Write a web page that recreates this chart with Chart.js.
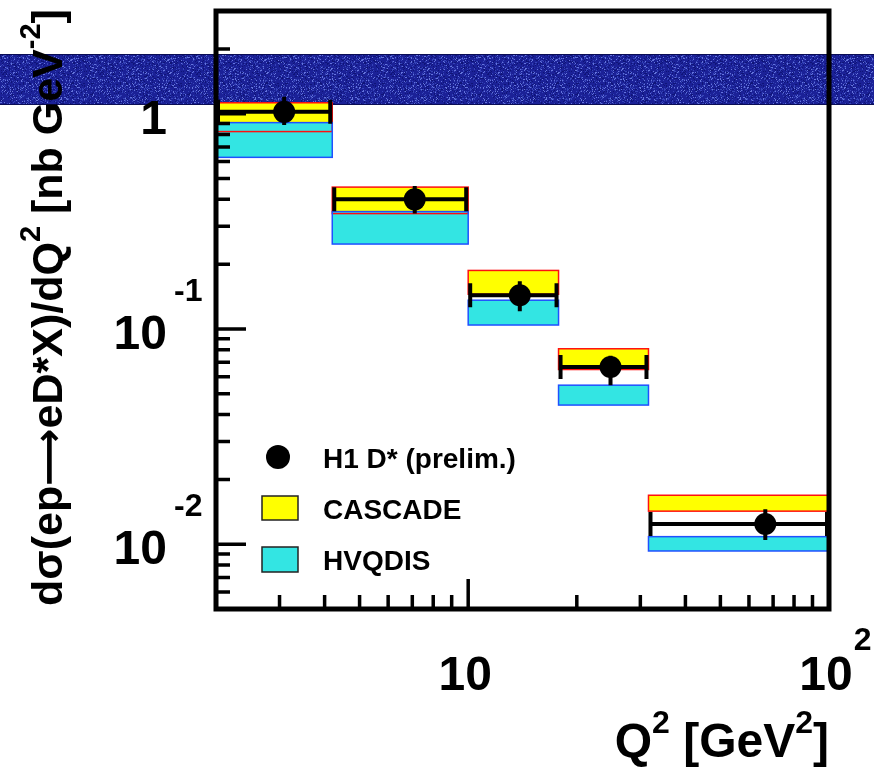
<!DOCTYPE html>
<html>
<head>
<meta charset="utf-8">
<script src="https://cdn.jsdelivr.net/npm/chart.js@4"></script>
<style>
   html, body { margin: 0; padding: 0; background: #fff; }
   canvas { display: block; }
</style>
</head>
<body>
<canvas id="myChart" width="874" height="768"></canvas>
<script>
// Q2 bins and measured points
const binLow = [2, 4.2, 10, 17.8, 31.6];
const binHigh = [4.2, 10, 17.8, 31.6, 100];
const q2Center = [3.09, 7.11, 13.9, 24.8, 66.6];
const h1Value = [1.02, 0.4, 0.1434, 0.0666, 0.01241];
const h1ErrLow = [0.886, 0.344, 0.121, 0.0548, 0.01047];
const h1ErrHigh = [1.198, 0.461, 0.1665, 0.0751, 0.01455];

// model bands
const cascadeLow = [0.826, 0.3435, 0.145, 0.0648, 0.01424];
const cascadeHigh = [1.124, 0.456, 0.187, 0.0809, 0.01688];
const hvqdisLow = [0.627, 0.248, 0.1043, 0.0443, 0.0093];
const hvqdisHigh = [0.909, 0.351, 0.136, 0.0548, 0.01084];

const legendLabels = ['H1 D* (prelim.)', 'CASCADE', 'HVQDIS'];

// tick labels: [value, base, exponent]
const xTickLabels = [[10, '10', ''], [100, '10', '2']];
const yTickLabels = [[1, '1', ''], [0.1, '10', '-1'], [0.01, '10', '-2']];

const FONT = '"Liberation Sans", Arial, sans-serif';

function noisePattern(ctx) {
   const c = document.createElement('canvas');
   c.width = 97;
   c.height = 50;
   const p = c.getContext('2d');
   p.fillStyle = '#1b2197';
   p.fillRect(0, 0, c.width, c.height);
   for (let i = 0; i < c.width; i++) {
      for (let j = 0; j < c.height; j++) {
         const h = Math.abs(Math.sin(i * 12.9898 + j * 78.233) * 43758.5453) % 1;
         if (h > 0.78) {
            p.fillStyle = h > 0.92 ? '#6474dc' : '#3644b8';
            p.fillRect(i, j, 1, 1);
         } else if (h < 0.12) {
            p.fillStyle = '#0f1478';
            p.fillRect(i, j, 1, 1);
         }
      }
   }
   return ctx.createPattern(c, 'repeat');
}

function boxes(ctx, x, y, lows, highs, fill) {
   ctx.fillStyle = fill;
   for (let i = 0; i < binLow.length; i++) {
      const x0 = x.getPixelForValue(binLow[i]);
      const x1 = x.getPixelForValue(binHigh[i]);
      const y0 = y.getPixelForValue(highs[i]);
      const y1 = y.getPixelForValue(lows[i]);
      ctx.fillRect(x0, y0, x1 - x0, y1 - y0);
   }
}

function outlines(ctx, x, y, lows, highs, color) {
   ctx.strokeStyle = color;
   ctx.lineWidth = 1.5;
   for (let i = 0; i < binLow.length; i++) {
      const x0 = x.getPixelForValue(binLow[i]);
      const x1 = x.getPixelForValue(binHigh[i]);
      const y0 = y.getPixelForValue(highs[i]);
      const y1 = y.getPixelForValue(lows[i]);
      ctx.strokeRect(x0, y0, x1 - x0, y1 - y0);
   }
}

function supText(ctx, parts, x, y, align) {
   // parts: [text, size, raise, family?]
   const fontOf = (p) => 'bold ' + p[1] + 'px ' + (p[3] || FONT);
   let total = 0;
   parts.forEach((p) => {
      ctx.font = fontOf(p);
      total += ctx.measureText(p[0]).width;
   });
   let cx = x;
   if (align === 'right') cx = x - total;
   if (align === 'center') cx = x - total / 2;
   ctx.textAlign = 'left';
   ctx.textBaseline = 'alphabetic';
   parts.forEach((p) => {
      ctx.font = fontOf(p);
      ctx.fillText(p[0], cx, y - p[2]);
      cx += ctx.measureText(p[0]).width;
   });
}

const rootPlot = {
   id: 'rootPlot',
   beforeDraw(chart) {
      const ctx = chart.ctx;
      ctx.save();
      ctx.fillStyle = '#fff';
      ctx.fillRect(0, 0, chart.width, chart.height);
      ctx.fillStyle = noisePattern(ctx);
      ctx.fillRect(0, 55, chart.width, 49);
      ctx.strokeStyle = '#0a0d55';
      ctx.lineWidth = 1;
      ctx.beginPath();
      ctx.moveTo(0, 54.5); ctx.lineTo(chart.width, 54.5);
      ctx.moveTo(0, 104.5); ctx.lineTo(chart.width, 104.5);
      ctx.stroke();
      ctx.restore();
   },
   beforeDatasetsDraw(chart) {
      const ctx = chart.ctx;
      const x = chart.scales.x;
      const y = chart.scales.y;
      ctx.save();
      boxes(ctx, x, y, cascadeLow, cascadeHigh, '#ffff00');
      boxes(ctx, x, y, hvqdisLow, hvqdisHigh, '#33e5e3');
      outlines(ctx, x, y, cascadeLow, cascadeHigh, '#ff1010');
      outlines(ctx, x, y, hvqdisLow, hvqdisHigh, '#2050ff');

      // error bars of the data
      ctx.strokeStyle = '#000';
      ctx.lineWidth = 4;
      for (let i = 0; i < q2Center.length; i++) {
         const x0 = x.getPixelForValue(binLow[i]);
         const x1 = x.getPixelForValue(binHigh[i]);
         const xc = x.getPixelForValue(q2Center[i]);
         const yc = y.getPixelForValue(h1Value[i]);
         ctx.beginPath();
         ctx.moveTo(x0, yc); ctx.lineTo(x1, yc);
         ctx.moveTo(x0 + 2, yc - 12); ctx.lineTo(x0 + 2, yc + 12);
         ctx.moveTo(x1 - 2, yc - 12); ctx.lineTo(x1 - 2, yc + 12);
         ctx.moveTo(xc, y.getPixelForValue(h1ErrHigh[i]));
         ctx.lineTo(xc, y.getPixelForValue(h1ErrLow[i]));
         ctx.stroke();
      }
      ctx.restore();
   },
   afterDraw(chart) {
      const ctx = chart.ctx;
      const a = chart.chartArea;
      const x = chart.scales.x;
      const y = chart.scales.y;
      ctx.save();

      // ticks inside the frame
      ctx.strokeStyle = '#000';
      ctx.lineWidth = 3.5;
      ctx.beginPath();
      for (let e = -3; e <= 0; e++) {
         for (let k = 1; k <= 9; k++) {
            const v = k * Math.pow(10, e);
            if (v < y.min || v > y.max) continue;
            const py = y.getPixelForValue(v);
            ctx.moveTo(a.left, py);
            ctx.lineTo(a.left + (k === 1 ? 30 : 14), py);
         }
      }
      for (let e = 0; e <= 2; e++) {
         for (let k = 1; k <= 9; k++) {
            const v = k * Math.pow(10, e);
            if (v <= x.min || v >= x.max) continue;
            const px = x.getPixelForValue(v);
            ctx.moveTo(px, a.bottom);
            ctx.lineTo(px, a.bottom - (k === 1 ? 30 : 14));
         }
      }
      ctx.stroke();

      // frame
      ctx.lineWidth = 5;
      ctx.strokeRect(a.left, a.top, a.right - a.left, a.bottom - a.top);

      // tick labels
      ctx.fillStyle = '#000';
      yTickLabels.forEach(([v, base, ex]) => {
         const py = y.getPixelForValue(v);
         ctx.font = 'bold 48px ' + FONT;
         ctx.textAlign = 'right';
         ctx.textBaseline = 'alphabetic';
         ctx.fillText(base, 167, py + 20);
         if (ex) {
            ctx.font = 'bold 32px ' + FONT;
            ctx.textAlign = 'left';
            ctx.fillText(ex, 174, py - 28);
         }
      });
      xTickLabels.forEach(([v, base, ex]) => {
         const px = x.getPixelForValue(v);
         ctx.font = 'bold 48px ' + FONT;
         ctx.textAlign = 'center';
         ctx.textBaseline = 'alphabetic';
         ctx.fillText(base, px - 3, 690);
         if (ex) {
            const w = ctx.measureText(base).width;
            ctx.font = 'bold 32px ' + FONT;
            ctx.textAlign = 'left';
            ctx.fillText(ex, px - 3 + w / 2 + 1, 650);
         }
      });

      // axis titles
      supText(ctx, [['Q', 48, 0], ['2', 32, 24], [' [GeV', 48, 0], ['2', 32, 24], [']', 48, 0]], 829, 757, 'right');
      ctx.save();
      ctx.translate(62, 606);
      ctx.rotate(-Math.PI / 2);
      supText(ctx, [
         ['d\u03c3(ep', 43, 0],
         ['\u27f6', 40, 0, '"DejaVu Sans", sans-serif'],
         ['eD*X)/dQ', 43, 0],
         ['2', 29, 22],
         [' [nb GeV', 43, 0],
         ['-2', 29, 22],
         [']', 43, 0],
      ], 0, 0, 'left');
      ctx.restore();

      // legend
      ctx.beginPath();
      ctx.arc(278, 457, 12, 0, Math.PI * 2);
      ctx.fill();
      ctx.fillStyle = '#ffff00';
      ctx.fillRect(262, 496, 36, 24);
      ctx.fillStyle = '#33e5e3';
      ctx.fillRect(262, 547, 36, 25);
      ctx.strokeStyle = '#222';
      ctx.lineWidth = 1.5;
      ctx.strokeRect(262, 496, 36, 24);
      ctx.strokeRect(262, 547, 36, 25);
      ctx.fillStyle = '#000';
      ctx.font = 'bold 28px ' + FONT;
      ctx.textAlign = 'left';
      ctx.textBaseline = 'alphabetic';
      ctx.fillText(legendLabels[0], 323, 468);
      ctx.fillText(legendLabels[1], 323, 519);
      ctx.fillText(legendLabels[2], 323, 570);
      ctx.restore();
   },
};

new Chart(document.getElementById('myChart').getContext('2d'), {
   type: 'scatter',
   data: {
      datasets: [
         {
            label: legendLabels[0],
            data: q2Center.map((q, i) => ({ x: q, y: h1Value[i] })),
            backgroundColor: '#000',
            borderWidth: 0,
            pointRadius: 11,
            pointHoverRadius: 11,
         },
      ],
   },
   options: {
      responsive: false,
      animation: false,
      devicePixelRatio: 1,
      layout: {
         padding: { left: 216, right: 45, top: 6, bottom: 159 },
      },
      plugins: {
         legend: { display: false },
         tooltip: { enabled: false },
      },
      scales: {
         x: { type: 'logarithmic', min: 2, max: 100, display: false },
         y: { type: 'logarithmic', min: 0.005, max: 3, display: false },
      },
   },
   plugins: [rootPlot],
});
</script>
</body>
</html>
